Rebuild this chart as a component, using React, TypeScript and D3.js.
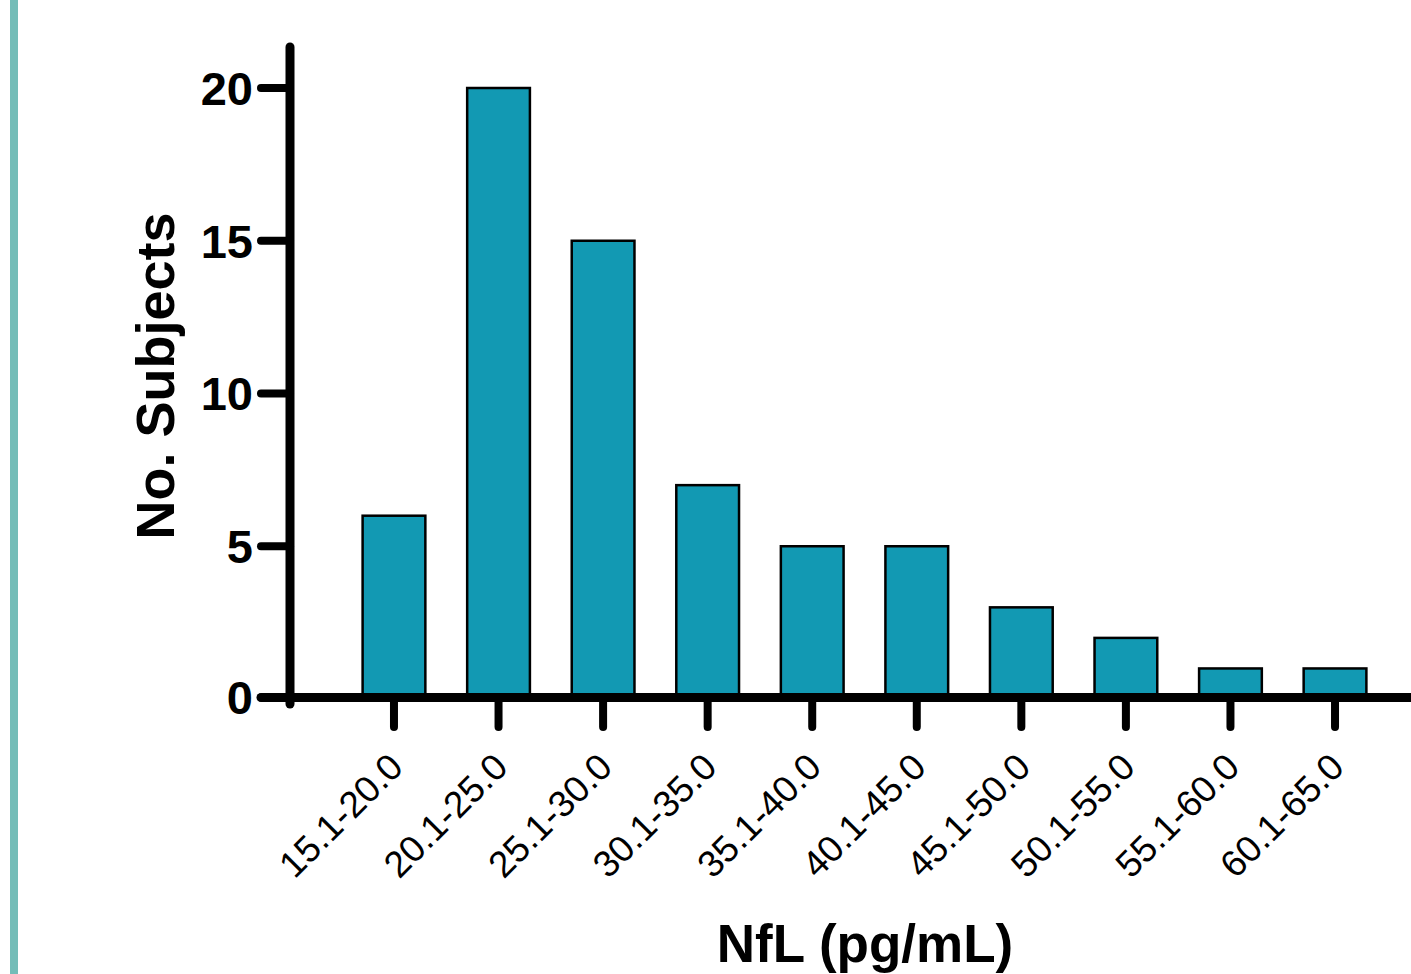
import React, { useEffect, useRef } from 'react';
import * as d3 from 'd3';

// bins of NfL concentration and number of subjects in each
const bins = ['15.1-20.0', '20.1-25.0', '25.1-30.0', '30.1-35.0', '35.1-40.0',
    '40.1-45.0', '45.1-50.0', '50.1-55.0', '55.1-60.0', '60.1-65.0'];
const counts = [6, 20, 15, 7, 5, 5, 3, 2, 1, 1];
const yTicks = [0, 5, 10, 15, 20];

const W = 1411, H = 974;
const FONT = "'Liberation Sans', Arial, Helvetica, sans-serif";

const App = () => {
    const ref = useRef<SVGSVGElement | null>(null);

    useEffect(() => {
        const svg = d3.select(ref.current);
        svg.selectAll('*').remove();

        // teal side rule at the left edge
        svg.append('rect')
            .attr('x', 10).attr('y', 0)
            .attr('width', 8).attr('height', H)
            .attr('fill', '#74bdb8');

        const x = d3.scaleBand()
            .domain(bins)
            .range([341.7, 1387.3])
            .paddingInner(0.4)
            .paddingOuter(0.2);

        const y = d3.scaleLinear()
            .domain([0, 20])
            .range([699, 88]);

        // bars
        svg.append('g')
            .selectAll('rect')
            .data(counts)
            .enter().append('rect')
            .attr('x', (d, i) => x(bins[i])!)
            .attr('y', d => y(d))
            .attr('width', x.bandwidth())
            .attr('height', d => y(0) - y(d))
            .attr('fill', '#1299b3')
            .attr('stroke', '#000')
            .attr('stroke-width', 2.5);

        const axisY = y(0) - 1.5;

        // y axis
        const axisX = 290;
        svg.append('line')
            .attr('x1', axisX).attr('x2', axisX)
            .attr('y1', 47).attr('y2', 704)
            .attr('stroke', '#000').attr('stroke-width', 9)
            .attr('stroke-linecap', 'round');

        svg.append('g')
            .selectAll('line')
            .data(yTicks)
            .enter().append('line')
            .attr('x1', 261).attr('x2', axisX)
            .attr('y1', d => d === 0 ? axisY : y(d))
            .attr('y2', d => d === 0 ? axisY : y(d))
            .attr('stroke', '#000').attr('stroke-width', 8)
            .attr('stroke-linecap', 'round');

        svg.append('g')
            .selectAll('text')
            .data(yTicks)
            .enter().append('text')
            .attr('x', 253)
            .attr('y', d => d === 0 ? axisY : y(d))
            .attr('dy', '0.36em')
            .attr('text-anchor', 'end')
            .style('font-family', FONT)
            .style('font-weight', 'bold')
            .style('font-size', '47px')
            .text(d => d);

        // x axis
        svg.append('line')
            .attr('x1', 261).attr('x2', W + 10)
            .attr('y1', axisY).attr('y2', axisY)
            .attr('stroke', '#000').attr('stroke-width', 9)
            .attr('stroke-linecap', 'round');

        svg.append('g')
            .selectAll('line')
            .data(bins)
            .enter().append('line')
            .attr('x1', d => x(d)! + x.bandwidth() / 2)
            .attr('x2', d => x(d)! + x.bandwidth() / 2)
            .attr('y1', axisY).attr('y2', 727)
            .attr('stroke', '#000').attr('stroke-width', 8)
            .attr('stroke-linecap', 'round');

        svg.append('g')
            .selectAll('text')
            .data(bins)
            .enter().append('text')
            .attr('transform', d => `translate(${x(d)! + x.bandwidth() / 2 + 2},760) rotate(-45)`)
            .attr('dy', '0.35em')
            .attr('text-anchor', 'end')
            .style('font-family', FONT)
            .style('font-size', '37px')
            .text(d => d);

        // axis titles
        svg.append('text')
            .attr('transform', 'translate(155,376) rotate(-90)')
            .attr('dy', '0.36em')
            .attr('text-anchor', 'middle')
            .style('font-family', FONT)
            .style('font-weight', 'bold')
            .style('font-size', '54px')
            .text('No. Subjects');

        svg.append('text')
            .attr('x', 865)
            .attr('y', 962)
            .attr('text-anchor', 'middle')
            .style('font-family', FONT)
            .style('font-weight', 'bold')
            .style('font-size', '53px')
            .text('NfL (pg/mL)');
    }, []);

    return (
        <svg ref={ref} width={W} height={H}
            style={{ position: 'absolute', left: 0, top: 0, background: '#fff' }} />
    );
};

export default App;
